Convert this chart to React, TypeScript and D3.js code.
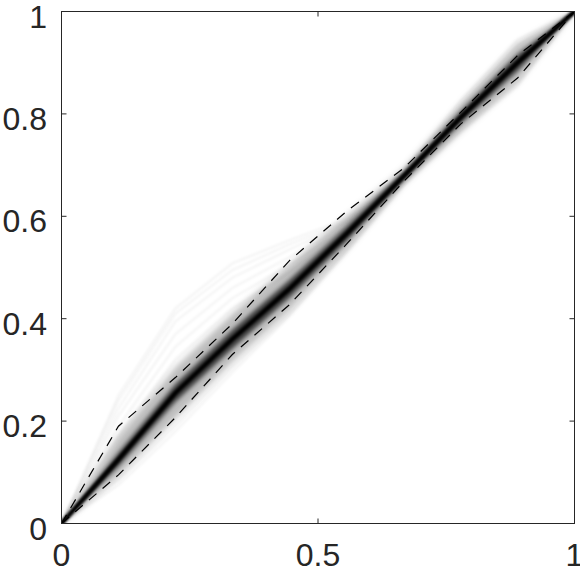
import React from "react";
import * as d3 from "d3";

// knots along the x axis (curves are piecewise linear between them)
const xKnots = [0, 0.111, 0.222, 0.333, 0.444, 0.556, 0.667, 0.778, 0.889, 1];

// central (median) curve and density band quantiles
const medianCurve = [0, 0.125, 0.255, 0.36, 0.458, 0.566, 0.678, 0.793, 0.9, 1];
const q25Curve = [0, 0.112, 0.238, 0.342, 0.441, 0.552, 0.67, 0.781, 0.884, 1];
const q75Curve = [0, 0.138, 0.272, 0.378, 0.475, 0.58, 0.686, 0.805, 0.916, 1];
const q05Curve = [0, 0.092, 0.205, 0.315, 0.415, 0.535, 0.663, 0.765, 0.862, 1];
const q95Curve = [0, 0.17, 0.305, 0.41, 0.505, 0.6, 0.693, 0.82, 0.937, 1];

// dashed bounds
const upperBound = [0, 0.19, 0.285, 0.39, 0.513, 0.61, 0.694, 0.803, 0.914, 1];
const lowerBound = [0, 0.095, 0.207, 0.33, 0.427, 0.546, 0.668, 0.78, 0.87, 1];

// faint individual curves
const faint1 = [0, 0.25, 0.42, 0.508, 0.553, 0.595, 0.685, 0.795, 0.9, 1];
const faint2 = [0, 0.24, 0.41, 0.495, 0.545, 0.59, 0.683, 0.795, 0.9, 1];
const faint3 = [0, 0.225, 0.395, 0.48, 0.535, 0.588, 0.683, 0.795, 0.9, 1];
const faint4 = [0, 0.21, 0.37, 0.46, 0.52, 0.585, 0.68, 0.795, 0.9, 1];
const faint5 = [0, 0.19, 0.345, 0.44, 0.505, 0.58, 0.68, 0.795, 0.9, 1];
const faint6 = [0, 0.17, 0.32, 0.42, 0.49, 0.578, 0.68, 0.79, 0.9, 1];
const faint7 = [0, 0.075, 0.18, 0.295, 0.405, 0.53, 0.66, 0.765, 0.855, 1];
const faint8 = [0, 0.085, 0.19, 0.305, 0.41, 0.535, 0.663, 0.77, 0.862, 1];
const faint9 = [0, 0.125, 0.255, 0.36, 0.46, 0.57, 0.69, 0.825, 0.945, 1];
const faint10 = [0, 0.125, 0.255, 0.36, 0.46, 0.57, 0.688, 0.815, 0.935, 1];
const faintCurves = [faint1, faint2, faint3, faint4, faint5, faint6, faint7, faint8, faint9, faint10];

// ticks
const xTicks = [0, 0.5, 1];
const xTickLabels = ["0", "0.5", "1"];
const yTicks = [0, 0.2, 0.4, 0.6, 0.8, 1];
const yTickLabels = ["0", "0.2", "0.4", "0.6", "0.8", "1"];

const W = 580;
const H = 573;
const AX = "#262626";
const FONT = "'Liberation Sans', Arial, Helvetica, sans-serif";

export default function App() {
  const x = d3.scaleLinear().domain([0, 1]).range([61.5, 574.5]);
  const y = d3.scaleLinear().domain([0, 1]).range([523.5, 11.5]);

  const line = (ys: number[]) =>
    d3
      .line<number>()
      .x((_, i) => x(xKnots[i]))
      .y((d) => y(d))(ys) as string;

  const area = (lo: number[], hi: number[]) =>
    d3
      .area<number>()
      .x((_, i) => x(xKnots[i]))
      .y0((_, i) => y(lo[i]))
      .y1((_, i) => y(hi[i]))(xKnots) as string;

  const tickLen = 5;

  return (
    <svg
      width={W}
      height={H}
      style={{ position: "absolute", left: 0, top: 0, background: "#fff" }}
    >
      <defs>
        <filter id="blurOuter" x="-20%" y="-20%" width="140%" height="140%">
          <feGaussianBlur stdDeviation="3.2" />
        </filter>
        <filter id="blurInner" x="-20%" y="-20%" width="140%" height="140%">
          <feGaussianBlur stdDeviation="2" />
        </filter>
        <filter id="blurLine" x="-20%" y="-20%" width="140%" height="140%">
          <feGaussianBlur stdDeviation="0.8" />
        </filter>
        <clipPath id="plotClip">
          <rect x={x(0)} y={y(1)} width={x(1) - x(0)} height={y(0) - y(1)} />
        </clipPath>
      </defs>
      <rect x={0} y={0} width={W} height={H} fill="#fff" />

      <g clipPath="url(#plotClip)">
        {faintCurves.map((c, i) => (
          <path
            key={i}
            d={line(c)}
            fill="none"
            stroke="#000"
            strokeOpacity={0.04}
            strokeWidth={2.5}
            filter="url(#blurLine)"
          />
        ))}
        <path d={area(q05Curve, q95Curve)} fill="#000" fillOpacity={0.26} filter="url(#blurOuter)" />
        <path d={area(q25Curve, q75Curve)} fill="#000" fillOpacity={0.7} filter="url(#blurInner)" />
        <path d={line(medianCurve)} fill="none" stroke="#000" strokeWidth={4.5} filter="url(#blurLine)" />
        <path d={line(upperBound)} fill="none" stroke="#000" strokeWidth={1.2} strokeDasharray="10,8" />
        <path d={line(lowerBound)} fill="none" stroke="#000" strokeWidth={1.2} strokeDasharray="10,8" />
      </g>

      {/* frame */}
      <rect
        x={x(0)}
        y={y(1)}
        width={x(1) - x(0)}
        height={y(0) - y(1)}
        fill="none"
        stroke={AX}
        strokeWidth={1}
      />
      {/* ticks */}
      {xTicks.map((t) => (
        <g key={"xt" + t}>
          <line x1={x(t)} x2={x(t)} y1={y(0)} y2={y(0) - tickLen} stroke={AX} />
          <line x1={x(t)} x2={x(t)} y1={y(1)} y2={y(1) + tickLen} stroke={AX} />
        </g>
      ))}
      {yTicks.map((t) => (
        <g key={"yt" + t}>
          <line x1={x(0)} x2={x(0) + tickLen} y1={y(t)} y2={y(t)} stroke={AX} />
          <line x1={x(1)} x2={x(1) - tickLen} y1={y(t)} y2={y(t)} stroke={AX} />
        </g>
      ))}
      {/* tick labels */}
      {xTicks.map((t, i) => (
        <text
          key={"xl" + t}
          x={x(t)}
          y={566}
          textAnchor="middle"
          fontFamily={FONT}
          fontSize={32}
          fill={AX}
        >
          {xTickLabels[i]}
        </text>
      ))}
      {yTicks.map((t, i) => (
        <text
          key={"yl" + t}
          x={47}
          y={y(t) + 16}
          textAnchor="end"
          fontFamily={FONT}
          fontSize={32}
          fill={AX}
        >
          {yTickLabels[i]}
        </text>
      ))}
    </svg>
  );
}
